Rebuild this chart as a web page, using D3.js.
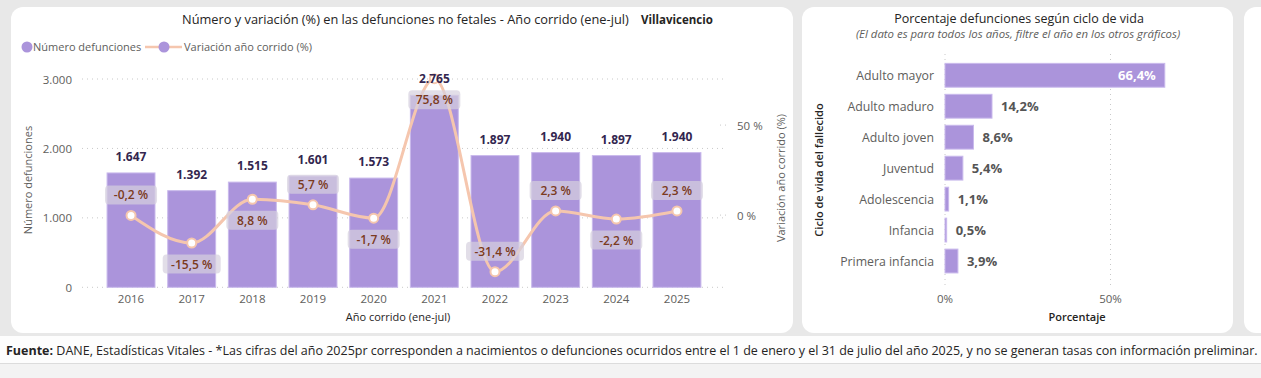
<!DOCTYPE html>
<html>
<head>
<meta charset="utf-8">
<script src="https://cdn.jsdelivr.net/npm/d3@7/dist/d3.min.js"></script>
<style>
  html, body { margin: 0; padding: 0; background: #eaeaea; }
  svg { display: block; }
  text { font-family: "Open Sans", "Noto Sans", sans-serif; }
</style>
</head>
<body>
<svg id="chart" width="1261" height="378"></svg>
<script>
// Defunciones no fetales - Villavicencio

const years = ['2016', '2017', '2018', '2019', '2020', '2021', '2022', '2023', '2024', '2025']
const deaths = [1647, 1392, 1515, 1601, 1573, 2765, 1897, 1940, 1897, 1940]
const variation = [-0.2, -15.5, 8.8, 5.7, -1.7, 75.8, -31.4, 2.3, -2.2, 2.3]
const variationSide = ['above', 'below', 'below', 'above', 'below', 'below', 'above', 'above', 'below', 'above']
const deathTicks = [0, 1000, 2000, 3000]
const variationTicks = [0, 50]

const lifeStages = ['Adulto mayor', 'Adulto maduro', 'Adulto joven', 'Juventud', 'Adolescencia', 'Infancia', 'Primera infancia']
const lifeShares = [66.4, 14.2, 8.6, 5.4, 1.1, 0.5, 3.9]
const shareTicks = [0, 50]

const es = d3.formatLocale({ decimal: ',', thousands: '.', grouping: [3], currency: ['$', ''], minus: '-' })
const fmtInt = es.format(',d')
const fmtPct = es.format('.1f')

const purple = '#ab94db'
const peach = '#f5c6ae'
const svg = d3.select('#chart')

// background + panels
svg.append('rect').attr('width', 1261).attr('height', 378).attr('fill', '#e8e8e8')
svg.append('rect').attr('x', 0).attr('y', 336).attr('width', 1261).attr('height', 28).attr('fill', '#fdfdfd')
svg.append('rect').attr('x', 0).attr('y', 364).attr('width', 1261).attr('height', 14).attr('fill', '#f3f3f3')
svg.append('line').attr('x1', 0).attr('x2', 1261).attr('y1', 363.5).attr('y2', 363.5).attr('stroke', '#dcdcdc')

const panels = [
  { x: 11, y: 7, w: 782, h: 326 },
  { x: 802, y: 7, w: 431, h: 326 },
  { x: 1244, y: 7, w: 40, h: 326 }
]
panels.forEach(p => {
  svg.append('rect')
    .attr('x', p.x).attr('y', p.y).attr('width', p.w).attr('height', p.h)
    .attr('rx', 12).attr('fill', '#ffffff')
})

// ---------- Left chart ----------
const left = svg.append('g')

left.append('text')
  .attr('x', 182).attr('y', 24)
  .style('font-size', '12.8px').style('fill', '#252423')
  .text('Número y variación (%) en las defunciones no fetales - Año corrido (ene-jul)')

left.append('text')
  .attr('x', 641).attr('y', 24)
  .style('font-size', '11.5px').style('font-weight', '700').style('fill', '#252423')
  .text('Villavicencio')

// legend
left.append('circle').attr('cx', 27).attr('cy', 47).attr('r', 5.5).attr('fill', purple)
left.append('text').attr('x', 33).attr('y', 51)
  .style('font-size', '11px').style('fill', '#605e5c').text('Número defunciones')
left.append('line').attr('x1', 145).attr('x2', 182).attr('y1', 47).attr('y2', 47)
  .attr('stroke', peach).attr('stroke-width', 2.5)
left.append('circle').attr('cx', 164).attr('cy', 47).attr('r', 5.5).attr('fill', purple)
left.append('text').attr('x', 184).attr('y', 51)
  .style('font-size', '11px').style('fill', '#605e5c').text('Variación año corrido (%)')

const x = d3.scaleBand()
  .domain(years)
  .range([100.7, 707.3])
  .paddingInner(0.21)
  .paddingOuter(0.105)

const y = d3.scaleLinear().domain([0, 3000]).range([287.3, 79])
const yPct = d3.scaleLinear().domain([-40.1, 75.6]).range([287.3, 79])

// gridlines
left.selectAll('.grid')
  .data(deathTicks)
  .enter()
  .append('line')
  .attr('x1', 82).attr('x2', 723)
  .attr('y1', d => y(d)).attr('y2', d => y(d))
  .attr('stroke', '#c8c8c8').attr('stroke-dasharray', '1,4')

left.selectAll('.tick-l')
  .data(deathTicks)
  .enter()
  .append('text')
  .attr('x', 72).attr('y', d => y(d) + 4.5)
  .attr('text-anchor', 'end')
  .style('font-size', '11.5px').style('fill', '#605e5c')
  .text(d => fmtInt(d))

left.selectAll('.grid-r')
  .data(variationTicks)
  .enter()
  .append('line')
  .attr('x1', 720).attr('x2', 729)
  .attr('y1', d => yPct(d)).attr('y2', d => yPct(d))
  .attr('stroke', '#c8c8c8').attr('stroke-dasharray', '1,4')

left.selectAll('.tick-r')
  .data(variationTicks)
  .enter()
  .append('text')
  .attr('x', 737).attr('y', d => yPct(d) + 4.5)
  .style('font-size', '11.5px').style('fill', '#605e5c')
  .text(d => `${d} %`)

left.append('text')
  .attr('transform', 'translate(32, 180) rotate(-90)')
  .attr('text-anchor', 'middle')
  .style('font-size', '11px').style('fill', '#605e5c')
  .text('Número defunciones')

left.append('text')
  .attr('transform', 'translate(785, 178) rotate(-90)')
  .attr('text-anchor', 'middle')
  .style('font-size', '11px').style('fill', '#605e5c')
  .text('Variación año corrido (%)')

// bars
left.selectAll('.bar')
  .data(years)
  .enter()
  .append('rect')
  .attr('x', d => x(d))
  .attr('y', (d, i) => y(deaths[i]))
  .attr('width', x.bandwidth())
  .attr('height', (d, i) => y(0) - y(deaths[i]))
  .attr('fill', purple)
  .attr('stroke', '#c9b9ec').attr('stroke-width', 1)

// x axis labels
left.selectAll('.year')
  .data(years)
  .enter()
  .append('text')
  .attr('x', d => x(d) + x.bandwidth() / 2)
  .attr('y', 303)
  .attr('text-anchor', 'middle')
  .style('font-size', '11.5px').style('fill', '#605e5c')
  .text(d => d)

left.append('text')
  .attr('x', 398).attr('y', 321)
  .attr('text-anchor', 'middle')
  .style('font-size', '11px').style('fill', '#252423')
  .text('Año corrido (ene-jul)')

// variation line
const pts = years.map((d, i) => [x(d) + x.bandwidth() / 2, yPct(variation[i])])
left.append('path')
  .datum(pts)
  .attr('fill', 'none')
  .attr('stroke', peach)
  .attr('stroke-width', 3)
  .attr('d', d3.line().curve(d3.curveMonotoneX))

left.selectAll('.dot')
  .data(pts)
  .enter()
  .append('circle')
  .attr('cx', d => d[0]).attr('cy', d => d[1])
  .attr('r', 4.5)
  .attr('fill', '#ffffff')
  .attr('stroke', peach).attr('stroke-width', 2)

// bar value labels (on top of the line)
left.selectAll('.bar-label')
  .data(years)
  .enter()
  .append('text')
  .attr('x', d => x(d) + x.bandwidth() / 2)
  .attr('y', (d, i) => y(deaths[i]) - 12)
  .attr('text-anchor', 'middle')
  .style('font-size', '12px').style('font-weight', '700').style('fill', '#33264f')
  .text((d, i) => fmtInt(deaths[i]))

// variation labels
const pctLabels = left.selectAll('.pct')
  .data(years)
  .enter()
  .append('g')
  .attr('transform', (d, i) => {
    const cy = yPct(variation[i]) + (variationSide[i] === 'above' ? -20.5 : 21)
    return `translate(${x(d) + x.bandwidth() / 2}, ${cy})`
  })

pctLabels.append('rect')
  .attr('x', (d, i) => variation[i] < -9.9 ? -29 : -26)
  .attr('y', -9.5)
  .attr('width', (d, i) => variation[i] < -9.9 ? 58 : 52)
  .attr('height', 19)
  .attr('rx', 4)
  .attr('fill', '#d6d0de')
  .attr('fill-opacity', 0.7)

pctLabels.append('text')
  .attr('y', 4.5)
  .attr('text-anchor', 'middle')
  .style('font-size', '12px').style('font-weight', '600').style('fill', '#7b3a20')
  .text((d, i) => `${fmtPct(variation[i])} %`)

// ---------- Right chart ----------
const right = svg.append('g')

right.append('text')
  .attr('x', 1019).attr('y', 23)
  .attr('text-anchor', 'middle')
  .style('font-size', '12.5px').style('fill', '#252423')
  .text('Porcentaje defunciones según ciclo de vida')

right.append('text')
  .attr('x', 1018).attr('y', 38)
  .attr('text-anchor', 'middle')
  .style('font-size', '11.4px').style('font-style', 'italic').style('fill', '#605e5c')
  .text('(El dato es para todos los años, filtre el año en los otros gráficos)')

const yc = d3.scaleBand()
  .domain(lifeStages)
  .range([59.8, 276.5])
  .paddingInner(0.23)
  .paddingOuter(0.115)

const xs = d3.scaleLinear().domain([0, 50]).range([945, 1110.5])

right.selectAll('.vgrid')
  .data(shareTicks)
  .enter()
  .append('line')
  .attr('x1', d => xs(d)).attr('x2', d => xs(d))
  .attr('y1', 54).attr('y2', 288)
  .attr('stroke', '#c8c8c8').attr('stroke-dasharray', '1,4')

right.selectAll('.xtick')
  .data(shareTicks)
  .enter()
  .append('text')
  .attr('x', d => xs(d)).attr('y', 303)
  .attr('text-anchor', 'middle')
  .style('font-size', '11.5px').style('fill', '#605e5c')
  .text(d => `${d}%`)

right.append('text')
  .attr('x', 1077).attr('y', 321)
  .attr('text-anchor', 'middle')
  .style('font-size', '11px').style('font-weight', '600').style('fill', '#252423')
  .text('Porcentaje')

right.append('text')
  .attr('transform', 'translate(823, 170) rotate(-90)')
  .attr('text-anchor', 'middle')
  .style('font-size', '11px').style('font-weight', '600').style('fill', '#252423')
  .text('Ciclo de vida del fallecido')

right.selectAll('.cat')
  .data(lifeStages)
  .enter()
  .append('text')
  .attr('x', 934)
  .attr('y', d => yc(d) + yc.bandwidth() / 2 + 4.5)
  .attr('text-anchor', 'end')
  .style('font-size', '12.3px').style('fill', '#605e5c')
  .text(d => d)

right.selectAll('.hbar')
  .data(lifeStages)
  .enter()
  .append('rect')
  .attr('x', xs(0))
  .attr('y', d => yc(d))
  .attr('width', (d, i) => xs(lifeShares[i]) - xs(0))
  .attr('height', yc.bandwidth())
  .attr('fill', purple)
  .attr('stroke', '#c9b9ec').attr('stroke-width', 1)

right.selectAll('.share')
  .data(lifeStages)
  .enter()
  .append('text')
  .attr('x', (d, i) => lifeShares[i] > 50 ? xs(lifeShares[i]) - 9 : xs(lifeShares[i]) + 9)
  .attr('y', d => yc(d) + yc.bandwidth() / 2 + 4.5)
  .attr('text-anchor', (d, i) => lifeShares[i] > 50 ? 'end' : 'start')
  .style('font-size', '13px').style('font-weight', '700')
  .style('fill', (d, i) => lifeShares[i] > 50 ? '#ffffff' : '#555555')
  .text((d, i) => `${fmtPct(lifeShares[i])}%`)

// ---------- Footer ----------
const foot = svg.append('text')
  .attr('x', 6).attr('y', 355)
  .style('font-size', '12.5px').style('fill', '#252423')
foot.append('tspan').style('font-weight', '700').text('Fuente:')
foot.append('tspan')
  .text(' DANE, Estadísticas Vitales - *Las cifras del año 2025pr corresponden a nacimientos o defunciones ocurridos entre el 1 de enero y el 31 de julio del año 2025, y no se generan tasas con información preliminar.')
</script>
</body>
</html>
